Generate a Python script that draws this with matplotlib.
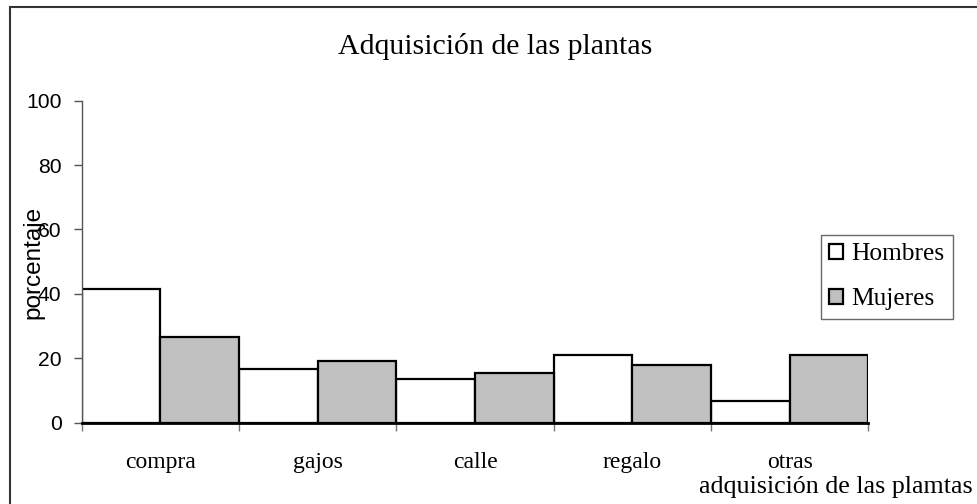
import matplotlib.pyplot as plt
from matplotlib.patches import Rectangle
import numpy as np

categories = ["compra", "gajos", "calle", "regalo", "otras"]
hombres = [41.4, 16.7, 13.6, 21.1, 6.7]
mujeres = [26.5, 19.1, 15.4, 17.9, 21.0]
series_names = ["Hombres", "Mujeres"]
yticks = [0, 20, 40, 60, 80, 100]

W, H = 978, 504
fig = plt.figure(figsize=(W / 100, H / 100), dpi=100)
ax = fig.add_axes([81.7 / W, 1 - 422.5 / H, (868.3 - 81.7) / W, (422.5 - 100.7) / H])

x = np.arange(len(categories))
b1 = ax.bar(x - 0.25, hombres, width=0.5, color="white", edgecolor="black", linewidth=1.6,
            label=series_names[0])
b2 = ax.bar(x + 0.25, mujeres, width=0.5, color="#c0c0c0", edgecolor="black", linewidth=1.6,
            label=series_names[1])

ax.set_xlim(-0.5, len(categories) - 0.5)
ax.set_ylim(0, 100)

# axes lines
for s in ["top", "right"]:
    ax.spines[s].set_visible(False)
ax.spines["bottom"].set_linewidth(2)
ax.spines["bottom"].set_color("black")
ax.spines["left"].set_linewidth(1)
ax.spines["left"].set_color("#555555")

# y ticks
ax.set_yticks(yticks)
ax.tick_params(axis="y", length=6, width=1, color="#555555", pad=8.5)
for t in ax.get_yticklabels():
    t.set_fontfamily("Liberation Sans")
    t.set_fontsize(15.2)

# x ticks: marks at boundaries, labels at centers
ax.set_xticks(np.arange(len(categories) + 1) - 0.5)
ax.set_xticklabels([])
ax.tick_params(axis="x", which="major", length=6, width=1, color="#777777")
ax.set_xticks(x, minor=True)
ax.set_xticklabels(categories, minor=True, fontfamily="Liberation Serif", fontsize=17)
ax.tick_params(axis="x", which="minor", length=0, pad=21.5)

fig.text(495 / W, 1 - 46 / H, "Adquisición de las plantas", ha="center", va="center",
         fontfamily="Liberation Serif", fontsize=21.5)
fig.text(33 / W, 1 - 262 / H, "porcentaje", rotation=90, ha="center", va="center",
         fontfamily="Liberation Sans", fontsize=17.5)
fig.text(973 / W, 1 - 487 / H, "adquisición de las plamtas", ha="right", va="center",
         fontfamily="Liberation Serif", fontsize=18.7)

leg = fig.legend(loc="upper left", bbox_to_anchor=(821 / W, 1 - 235 / H),
                 prop={"family": "Liberation Serif", "size": 18.3},
                 frameon=True, fancybox=False, borderaxespad=0,
                 handlelength=0.55, handleheight=0.55, handletextpad=0.3,
                 labelspacing=0.9, borderpad=0.33)
leg.get_frame().set_edgecolor("#444444")
leg.get_frame().set_linewidth(1)

# outer chart border
fig.patches.append(Rectangle((9.5 / W, -0.05), 1.1, 1 - 6.5 / H + 0.05,
                             transform=fig.transFigure, fill=False,
                             edgecolor="#333333", linewidth=1.5))

fig.savefig("out.png", dpi=100)
